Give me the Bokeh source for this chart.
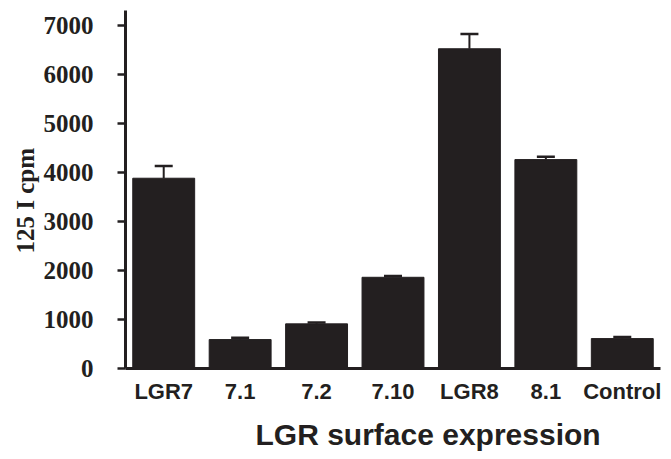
from bokeh.plotting import figure
from bokeh.models import FactorRange, Range1d, ColumnDataSource, Whisker, TeeHead, FixedTicker, Title
from bokeh.embed import file_html
from bokeh.resources import INLINE

categories = ["LGR7", "7.1", "7.2", "7.10", "LGR8", "8.1", "Control"]
values = [3880, 590, 910, 1860, 6520, 4260, 610]
errors = [250, 35, 30, 25, 300, 60, 30]
y_ticks = [0, 1000, 2000, 3000, 4000, 5000, 6000, 7000]

INK = "#231f20"

src = ColumnDataSource(dict(
    cat=categories,
    val=values,
    upper=[v + e for v, e in zip(values, errors)],
))

p = figure(
    x_range=FactorRange(*categories, range_padding=0),
    y_range=Range1d(0, 7300),
    width=671, height=459,
    output_backend="svg", toolbar_location=None,
    min_border_left=125, min_border_right=11, min_border_top=10, min_border_bottom=90,
)

p.vbar(x="cat", top="val", width=0.81, source=src, fill_color=INK, line_color=INK)

w = Whisker(source=src, base="cat", upper="upper", lower="val",
            line_color=INK, line_width=2,
            upper_head=TeeHead(size=18, line_color=INK, line_width=2.5),
            lower_head=None)
p.add_layout(w)

p.outline_line_color = None
p.xgrid.grid_line_color = None
p.ygrid.grid_line_color = None
p.background_fill_color = "white"
p.border_fill_color = "white"

# y axis
ya = p.yaxis[0]
ya.ticker = FixedTicker(ticks=y_ticks)
ya.minor_tick_line_color = None
ya.axis_line_color = INK
ya.axis_line_width = 3
ya.major_tick_line_color = INK
ya.major_tick_line_width = 2.5
ya.major_tick_out = 8
ya.major_tick_in = 0
ya.major_label_standoff = 24
ya.major_label_text_font = "Liberation Serif"
ya.major_label_text_font_style = "bold"
ya.major_label_text_font_size = "25px"
ya.major_label_text_color = INK

ytitle = Title(text="125 I cpm", align="left", offset=115,
               text_font="Liberation Serif", text_font_style="bold",
               text_font_size="25px", text_color=INK, standoff=4)
p.add_layout(ytitle, "left")

# x axis
xa = p.xaxis[0]
xa.axis_line_color = INK
xa.axis_line_width = 3
xa.major_tick_line_color = None
xa.minor_tick_line_color = None
xa.major_tick_out = 0
xa.major_tick_in = 0
xa.major_label_standoff = 10
xa.major_label_text_font = "Liberation Sans"
xa.major_label_text_font_style = "bold"
xa.major_label_text_font_size = "22px"
xa.major_label_text_color = INK

xtitle = Title(text="LGR surface expression", align="left", offset=130,
               text_font="Liberation Sans", text_font_style="bold",
               text_font_size="30px", text_color=INK, standoff=18)
p.add_layout(xtitle, "below")

open("out.html", "w").write(file_html(p, INLINE))
